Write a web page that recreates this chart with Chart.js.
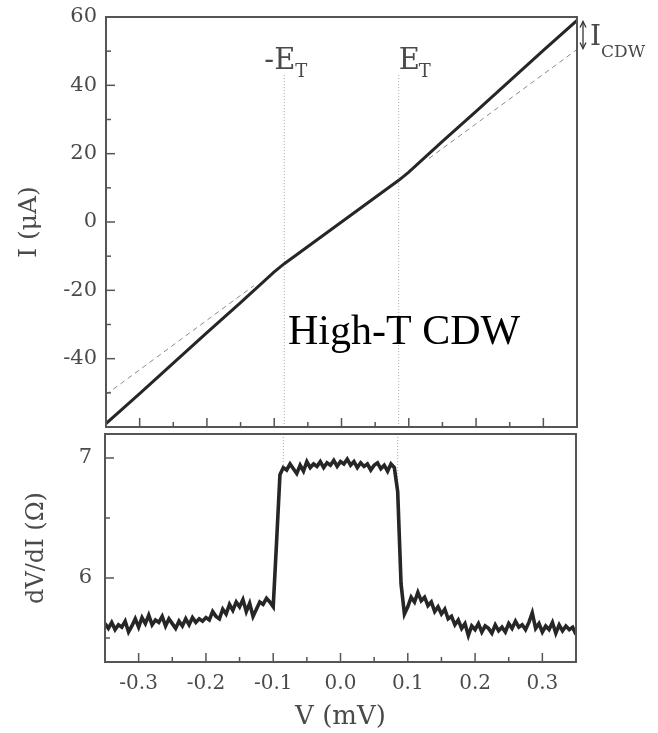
<!DOCTYPE html>
<html><head><meta charset="utf-8">
<script src="https://cdn.jsdelivr.net/npm/chart.js@4.4.1/dist/chart.umd.min.js"></script>
<style>
html,body{margin:0;padding:0;background:#fff;}
#wrap{position:relative;width:658px;height:733px;overflow:hidden;}
canvas{position:absolute;left:0;}
#c1{top:0}
#c2{top:430px}
</style></head><body>
<div id="wrap"><canvas id="c1" width="658" height="430"></canvas><canvas id="c2" width="658" height="303"></canvas></div>
<script>
// ---------- data ----------
const ivV = [-0.35,-0.30,-0.25,-0.20,-0.15,-0.10,-0.085,0,0.085,0.10,0.15,0.20,0.25,0.30,0.35];
const ivI = [-59,-50.2,-41.3,-32.4,-23.6,-14.6,-12.2,0,12.2,14.6,23.6,32.4,41.3,50.2,59];
const ohmV = [-0.35,-0.13,0.13,0.35];
const ohmI = [-50.5,-18.6,18.6,50.5];
const thresholdV = [-0.085,0.085];
const thresholdTopI = [43,-60];
const thresholdBottomR = [[7.2,6.93],[7.2,6.6]];

const dvdiV = [-0.350,-0.345,-0.340,-0.335,-0.330,-0.325,-0.320,-0.315,-0.310,-0.305,
-0.300,-0.295,-0.290,-0.285,-0.280,-0.275,-0.270,-0.265,-0.260,-0.255,
-0.250,-0.245,-0.240,-0.235,-0.230,-0.225,-0.220,-0.215,-0.210,-0.205,
-0.200,-0.195,-0.190,-0.185,-0.180,-0.175,-0.170,-0.165,-0.160,-0.155,
-0.150,-0.145,-0.140,-0.135,-0.130,-0.125,-0.120,-0.115,-0.110,-0.105,
-0.100,-0.095,-0.090,-0.085,-0.080,-0.075,-0.070,-0.065,-0.060,-0.055,
-0.050,-0.045,-0.040,-0.035,-0.030,-0.025,-0.020,-0.015,-0.010,-0.005,
0.000,0.005,0.010,0.015,0.020,0.025,0.030,0.035,0.040,0.045,
0.050,0.055,0.060,0.065,0.070,0.075,0.080,0.085,0.090,0.095,
0.100,0.105,0.110,0.115,0.120,0.125,0.130,0.135,0.140,0.145,
0.150,0.155,0.160,0.165,0.170,0.175,0.180,0.185,0.190,0.195,
0.200,0.205,0.210,0.215,0.220,0.225,0.230,0.235,0.240,0.245,
0.250,0.255,0.260,0.265,0.270,0.275,0.280,0.285,0.290,0.295,
0.300,0.305,0.310,0.315,0.320,0.325,0.330,0.335,0.340,0.345,
0.350];
const dvdiR = [5.62,5.58,5.63,5.57,5.61,5.59,5.64,5.55,5.60,5.66,
5.59,5.67,5.62,5.69,5.61,5.65,5.63,5.68,5.60,5.66,
5.62,5.58,5.64,5.60,5.66,5.61,5.67,5.63,5.66,5.64,
5.67,5.65,5.72,5.68,5.66,5.74,5.70,5.78,5.73,5.80,
5.76,5.82,5.72,5.79,5.68,5.74,5.80,5.78,5.83,5.80,
5.76,6.30,6.86,6.92,6.90,6.95,6.91,6.87,6.94,6.89,
6.97,6.92,6.95,6.93,6.97,6.92,6.96,6.94,6.98,6.93,
6.97,6.95,6.99,6.94,6.97,6.92,6.96,6.93,6.95,6.90,
6.94,6.96,6.91,6.94,6.89,6.95,6.92,6.72,5.95,5.70,
5.76,5.84,5.80,5.88,5.81,5.84,5.77,5.80,5.72,5.76,
5.70,5.74,5.66,5.68,5.61,5.65,5.58,5.62,5.52,5.60,
5.57,5.62,5.55,5.60,5.58,5.54,5.61,5.56,5.59,5.55,
5.62,5.58,5.64,5.59,5.61,5.57,5.63,5.71,5.58,5.62,
5.55,5.60,5.57,5.63,5.54,5.61,5.56,5.60,5.57,5.59,
5.53];

// ---------- ticks ----------
const xTicks = [-0.3,-0.2,-0.1,0,0.1,0.2,0.3];
const xMinor = [-0.25,-0.15,-0.05,0.05,0.15,0.25];
const iTicks = [-40,-20,0,20,40,60];
const iMinor = [-50,-30,-10,10,30,50];
const rTicks = [6,7];
const rMinor = [5.5,6.5];

const GREY = '#4a4a4a';
const FRAME = '#555';
const LINE = '#262626';
const SERIF = '"DejaVu Serif", serif';

const pts = (xs, ys) => xs.map((v,i)=>({x:v,y:ys[i]}));
const noPad = s => { s.paddingTop = 0; s.paddingBottom = 0; s.paddingLeft = 0; s.paddingRight = 0; };

function frameTicks(id, xMaj, xMin, yMaj, yMin, extra){
  return { id:id, afterDraw(chart){
    const {ctx, chartArea:a, scales:{x,y}} = chart;
    ctx.save();
    ctx.strokeStyle = FRAME; ctx.lineWidth = 1.5;
    const seg=(x1,y1,x2,y2)=>{ctx.beginPath();ctx.moveTo(x1,y1);ctx.lineTo(x2,y2);ctx.stroke();};
    xMaj.forEach(v=>{const p=x.getPixelForValue(v); seg(p,a.bottom,p,a.bottom-9);});
    xMin.forEach(v=>{const p=x.getPixelForValue(v); seg(p,a.bottom,p,a.bottom-5);});
    yMaj.forEach(v=>{const p=y.getPixelForValue(v); seg(a.left,p,a.left+9,p);});
    yMin.forEach(v=>{const p=y.getPixelForValue(v); seg(a.left,p,a.left+5,p);});
    ctx.lineWidth = 2;
    ctx.strokeRect(a.left, a.top, a.right-a.left, a.bottom-a.top);
    if (extra) extra(chart, ctx);
    ctx.restore();
  }};
}

function topLabels(chart, ctx){
  const {scales:{x,y}} = chart;
  ctx.fillStyle = '#000';
  ctx.font = '42px "Liberation Serif", serif';
  ctx.textBaseline = 'alphabetic';
  ctx.textAlign = 'left';
  ctx.fillText('High-T CDW', 288, 344);

  ctx.fillStyle = GREY;
  const xl = x.getPixelForValue(thresholdV[0]);
  const xr = x.getPixelForValue(thresholdV[1]);
  ctx.font = '29px ' + SERIF;
  ctx.textAlign = 'right';
  ctx.fillText('-E', xl + 11, 69);
  ctx.textAlign = 'left';
  ctx.font = '18px ' + SERIF;
  ctx.fillText('T', xl + 11, 77);
  ctx.font = '29px ' + SERIF;
  ctx.fillText('E', xr, 69);
  ctx.font = '18px ' + SERIF;
  ctx.fillText('T', xr + 20, 77);

  // I_CDW with double arrow
  const ax = 583, y1 = y.getPixelForValue(ivI[ivI.length-1]) + 1, y2 = y.getPixelForValue(ohmI[ohmI.length-1]) - 1;
  ctx.strokeStyle = '#333'; ctx.lineWidth = 1.3;
  ctx.beginPath(); ctx.moveTo(ax, y1); ctx.lineTo(ax, y2); ctx.stroke();
  ctx.beginPath(); ctx.moveTo(ax-3, y1+6); ctx.lineTo(ax, y1); ctx.lineTo(ax+3, y1+6); ctx.stroke();
  ctx.beginPath(); ctx.moveTo(ax-3, y2-6); ctx.lineTo(ax, y2); ctx.lineTo(ax+3, y2-6); ctx.stroke();
  ctx.fillStyle = GREY;
  ctx.font = '28px ' + SERIF;
  ctx.fillText('I', 590, 45);
  ctx.font = '17px ' + SERIF;
  ctx.fillText('CDW', 601, 57);
}

const tickFont = {family: SERIF, size: 20};

new Chart(document.getElementById('c1'), {
  type: 'scatter',
  data: { datasets: [
    {data: pts(ivV, ivI), showLine:true, borderColor: LINE, borderWidth: 3, pointRadius: 0, order: 0},
    {data: [...pts(ohmV.slice(0,2), ohmI.slice(0,2)), {x:0,y:null}, ...pts(ohmV.slice(2), ohmI.slice(2))], showLine:true, spanGaps:false, borderColor:'#8a8a8a', borderWidth:1, borderDash:[5,4], pointRadius:0, order: 1},
    {data: pts([thresholdV[0],thresholdV[0]], thresholdTopI), showLine:true, borderColor:'#aaa', borderWidth:1, borderDash:[1,2], pointRadius:0, order: 2},
    {data: pts([thresholdV[1],thresholdV[1]], thresholdTopI), showLine:true, borderColor:'#aaa', borderWidth:1, borderDash:[1,2], pointRadius:0, order: 2}
  ]},
  options: {
    responsive:false, animation:false, devicePixelRatio:1,
    layout:{padding:{top:17,right:81,bottom:3,left:0}},
    plugins:{legend:{display:false}, tooltip:{enabled:false}},
    scales:{
      x:{type:'linear', min:-0.35, max:0.35, display:false, afterFit: noPad},
      y:{type:'linear', min:-60, max:60,
         afterFit(s){ s.width = 106; noPad(s); },
         afterBuildTicks(s){ s.ticks = iTicks.map(v=>({value:v})); },
         grid:{display:false, drawTicks:false}, border:{display:false},
         ticks:{padding:9, color:GREY, font:{family:SERIF,size:21}, callback:v=>String(v)},
         title:{display:true, text:'I (μA)', color:GREY, font:{family:SERIF,size:25}, padding:{top:14,bottom:0}}
      }
    }
  },
  plugins:[frameTicks('f1', xTicks, xMinor, iTicks, iMinor, topLabels)]
});

new Chart(document.getElementById('c2'), {
  type: 'scatter',
  data: { datasets: [
    {data: pts(dvdiV, dvdiR), showLine:true, borderColor: LINE, borderWidth: 3.6, pointRadius: 0, order: 0},
    {data: pts([thresholdV[0],thresholdV[0]], thresholdBottomR[0]), showLine:true, borderColor:'#aaa', borderWidth:1, borderDash:[1,2], pointRadius:0, order: 2},
    {data: pts([thresholdV[1],thresholdV[1]], thresholdBottomR[1]), showLine:true, borderColor:'#aaa', borderWidth:1, borderDash:[1,2], pointRadius:0, order: 2}
  ]},
  options: {
    responsive:false, animation:false, devicePixelRatio:1,
    layout:{padding:{top:4,right:82,bottom:0,left:0}},
    plugins:{legend:{display:false}, tooltip:{enabled:false}},
    scales:{
      x:{type:'linear', min:-0.35, max:0.35,
         afterFit(s){ s.height = 71; noPad(s); },
         afterBuildTicks(s){ s.ticks = xTicks.map(v=>({value:v})); },
         grid:{display:false, drawTicks:false}, border:{display:false},
         ticks:{padding:10, color:GREY, font:tickFont, maxRotation:0, autoSkip:false, callback:v=>Number(v).toFixed(1)},
         title:{display:true, text:'V (mV)', color:GREY, font:{family:SERIF,size:26}, padding:{top:0,bottom:0}}
      },
      y:{type:'linear', min:5.3, max:7.2,
         afterFit(s){ s.width = 105; noPad(s); },
         afterBuildTicks(s){ s.ticks = rTicks.map(v=>({value:v})); },
         grid:{display:false, drawTicks:false}, border:{display:false},
         ticks:{padding:13, color:GREY, font:{family:SERIF,size:21}, callback:v=>String(v)},
         title:{display:true, text:'dV/dI (Ω)', color:GREY, font:{family:SERIF,size:24}, padding:{top:22,bottom:0}}
      }
    }
  },
  plugins:[frameTicks('f2', xTicks, xMinor, rTicks, rMinor, null)]
});
</script>
</body></html>
